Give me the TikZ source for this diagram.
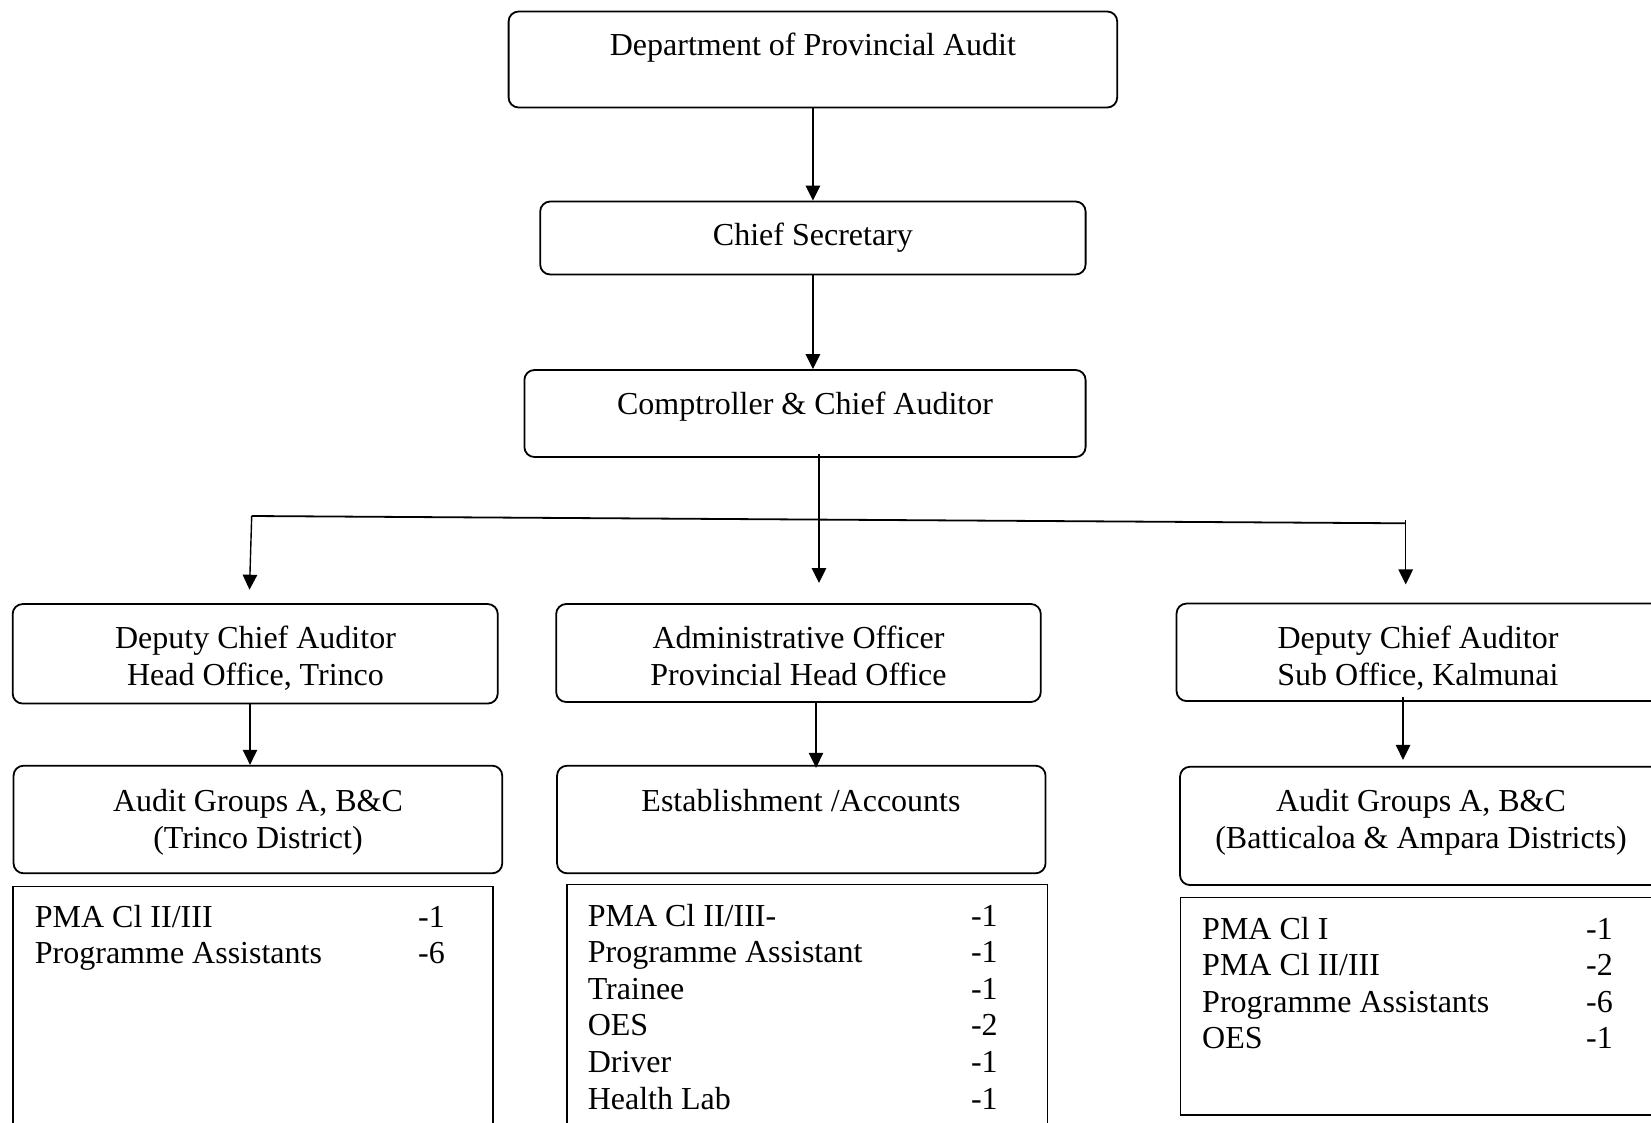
\documentclass[tikz,border=0pt]{standalone}
\usepackage{fontspec}
\setmainfont{Liberation Serif}
\usetikzlibrary{arrows.meta,calc}
\begin{document}
\begin{tikzpicture}[x=1pt,y=-1pt,
  font=\fontsize{32}{36.6}\selectfont,
  box/.style={draw, line width=1.8pt, rounded corners=10pt, inner sep=0pt},
  sqbox/.style={draw, line width=1.8pt, inner sep=0pt},
  txt/.style={inner sep=0pt, anchor=base},
  lst/.style={inner sep=0pt, anchor=base west},
  arr/.style={line width=1.4pt, -{Triangle[length=15pt,width=14.5pt]}},
  bar/.style={line width=1.8pt}
]
\useasboundingbox (0,0) rectangle (1651,1122);
\clip (0,0) rectangle (1651,1122);

% boxes
\node[box, minimum width=608.6pt, minimum height=96pt] (dept) at (812.9,59.5) {};
\node[box, minimum width=545.4pt, minimum height=73pt] (cs) at (812.9,238) {};
\node[box, minimum width=561.2pt, minimum height=87pt] (comp) at (805,413.5) {};
\node[box, minimum width=485.1pt, minimum height=99.5pt] (dcaL) at (255.2,653.8) {};
\node[box, minimum width=484.6pt, minimum height=98pt] (adm) at (798.5,653) {};
\node[box, minimum width=485.5pt, minimum height=97.5pt] (dcaR) at (1419.3,652.3) {};
\node[box, minimum width=488.7pt, minimum height=107.6pt] (agL) at (257.9,819.5) {};
\node[box, minimum width=488.5pt, minimum height=107.6pt] (est) at (801.3,819.5) {};
\node[box, minimum width=482pt, minimum height=118.3pt] (agR) at (1421,825.9) {};
\node[sqbox, minimum width=480.4pt, minimum height=273.5pt] (lstL) at (252.8,1023.3) {};
\node[sqbox, minimum width=480.8pt, minimum height=275.5pt] (lstM) at (807.1,1022.3) {};
\node[sqbox, minimum width=519.6pt, minimum height=217.5pt] (lstR) at (1440.2,1006.3) {};

% texts
\node[txt] (tdept) at (812.9,55) {Department of Provincial Audit};
\node[txt] (tcs) at (812.9,245) {Chief Secretary};
\node[txt] (tcomp) at (805,414) {Comptroller \& Chief Auditor};
\node[txt] (tdcaL1) at (255.5,648.5) {Deputy Chief Auditor};
\node[txt] (tdcaL2) at (255.5,685.5) {Head Office, Trinco};
\node[txt] (tadm1) at (798.5,648.5) {Administrative Officer};
\node[txt] (tadm2) at (798.5,685.5) {Provincial Head Office};
\node[txt] (tdcaR1) at (1418,648.5) {Deputy Chief Auditor};
\node[txt] (tdcaR2) at (1418,685.5) {Sub Office, Kalmunai};
\node[txt] (tagL1) at (258,811.5) {Audit Groups A, B\&C};
\node[txt] (tagL2) at (258,848.5) {(Trinco District)};
\node[txt] (test) at (801,811.5) {Establishment /Accounts};
\node[txt] (tagR1) at (1421,811.5) {Audit Groups A, B\&C};
\node[txt] (tagR2) at (1421,848.5) {(Batticaloa \& Ampara Districts)};

\node[lst] (llstL) at (34.7,927) {\begin{tabular}[t]{@{}p{383.3pt}@{}l@{}}
PMA Cl II/III & -1\\
Programme Assistants & -6
\end{tabular}};
\node[lst] (llstM) at (587.6,926) {\begin{tabular}[t]{@{}p{383.2pt}@{}l@{}}
PMA Cl II/III- & -1\\
Programme Assistant & -1\\
Trainee & -1\\
OES & -2\\
Driver & -1\\
Health Lab & -1
\end{tabular}};
\node[lst] (llstR) at (1202,939) {\begin{tabular}[t]{@{}p{384pt}@{}l@{}}
PMA Cl I & -1\\
PMA Cl II/III & -2\\
Programme Assistants & -6\\
OES & -1
\end{tabular}};

% connectors
\coordinate (tipM) at (819,583);
\coordinate (hl) at (251.7,516);
\coordinate (hr) at (1405.7,523.3);
\coordinate (tipL) at (249.5,589.7);
\coordinate (tipR) at (1405.7,584.4);
\coordinate (cL) at (250,0);
\coordinate (cM) at (816,0);
\coordinate (cR) at (1403,0);

\draw[arr] (dept.south) -- (cs.north);
\draw[arr] (cs.south) -- (cs.south |- comp.north);
\draw[arr] ($(comp.south -| tipM)+(0,-4)$) -- (tipM);
\draw[bar] (hl) -- (hr);
\draw[arr] (hl) -- (tipL);
\draw[arr] ($(hr)+(0,-3)$) -- (tipR);
\draw[arr] (dcaL.south -| cL) -- (agL.north -| cL);
\draw[arr] (adm.south -| cM) -- ($(est.north -| cM)+(0,3)$);
\draw[arr] ($(dcaR.south -| cR)+(0,-5)$) -- ($(agR.north -| cR)+(0,-6)$);
\end{tikzpicture}
\end{document}
